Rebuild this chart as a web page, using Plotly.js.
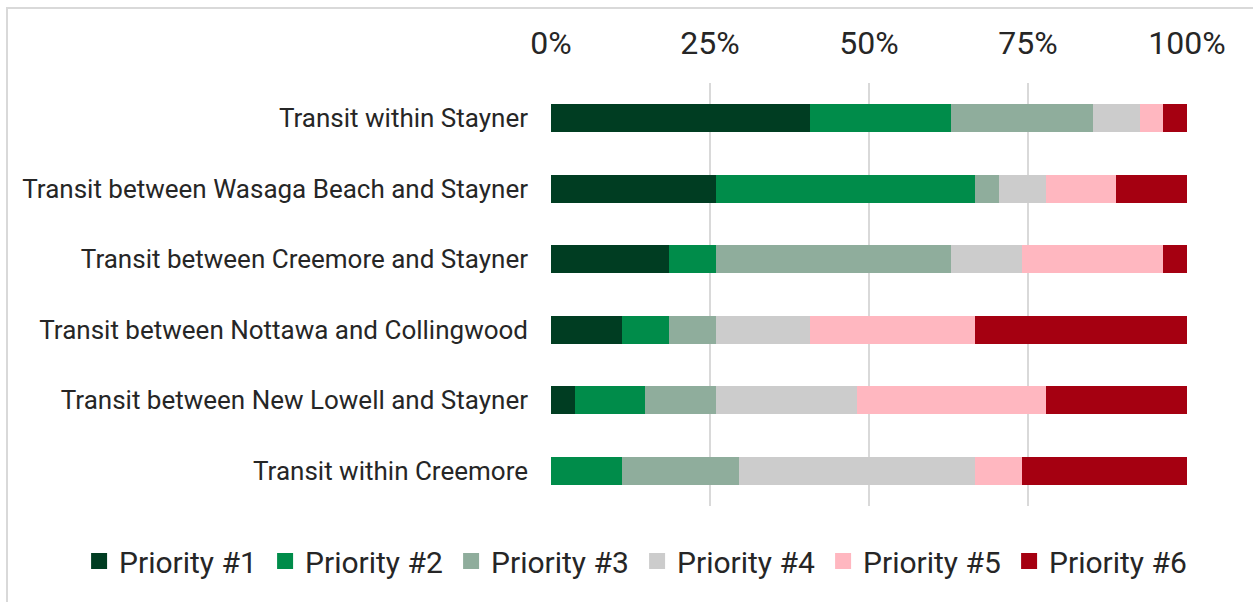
<!DOCTYPE html>
<html>
<head>
<meta charset="utf-8">
<script src="https://cdn.plot.ly/plotly-3.0.1.min.js"></script>
<style>
  html, body { margin: 0; padding: 0; background: #fff; }
  #chart { position: absolute; left: 0; top: 0; width: 1253px; height: 602px; }
  #frame { position: absolute; left: 6px; top: 7px; width: 1300px; height: 700px;
           border-left: 2px solid #d9d9d9; border-top: 2px solid #d9d9d9; pointer-events: none; }
</style>
</head>
<body>
<div id="chart"></div>
<div id="frame"></div>
<script>
const categories = [
  "Transit within Stayner",
  "Transit between Wasaga Beach and Stayner",
  "Transit between Creemore and Stayner",
  "Transit between Nottawa and Collingwood",
  "Transit between New Lowell and Stayner",
  "Transit within Creemore"
];
const seriesNames = ["Priority #1", "Priority #2", "Priority #3", "Priority #4", "Priority #5", "Priority #6"];
const priority1 = [40.7, 25.9, 18.5, 11.1, 3.7, 0];
const priority2 = [22.2, 40.7, 7.4, 7.4, 11.1, 11.1];
const priority3 = [22.2, 3.7, 37.0, 7.4, 11.1, 18.5];
const priority4 = [7.4, 7.4, 11.1, 14.8, 22.2, 37.0];
const priority5 = [3.7, 11.1, 22.2, 25.9, 29.6, 7.4];
const priority6 = [3.7, 11.1, 3.7, 33.3, 22.2, 25.9];
const tickValues = [0, 25, 50, 75, 100];
const tickLabels = ["0%", "25%", "50%", "75%", "100%"];

const seriesValues = [priority1, priority2, priority3, priority4, priority5, priority6];
const colors = ["#003D22", "#008C4A", "#8FAD9C", "#CCCCCC", "#FFB7C0", "#A50011"];

const barTraces = seriesValues.map((vals, i) => ({
  type: "bar",
  orientation: "h",
  name: seriesNames[i],
  y: categories,
  x: vals,
  showlegend: false,
  legendgroup: seriesNames[i],
  marker: { color: colors[i], line: { width: 0 } },
  hoverinfo: "name+x"
}));

// legend-only proxies so the legend swatches are larger squares
const legendTraces = seriesNames.map((name, i) => ({
  type: "scatter",
  mode: "markers",
  name: name,
  legendgroup: name,
  x: [null],
  y: [null],
  marker: { symbol: "square", size: 16, color: colors[i], line: { width: 0 } },
  hoverinfo: "skip"
}));

const font = "Roboto, 'Open Sans', sans-serif";

const layout = {
  width: 1253,
  height: 602,
  barmode: "stack",
  barnorm: "percent",
  bargap: 0.6,
  paper_bgcolor: "#ffffff",
  plot_bgcolor: "#ffffff",
  margin: { l: 551, r: 66, t: 83, b: 96, pad: 0 },
  font: { family: font, color: "#262626" },
  xaxis: {
    side: "top",
    range: [0, 100],
    tickvals: tickValues,
    ticktext: tickLabels,
    showgrid: true,
    gridcolor: "#d9d9d9",
    gridwidth: 2,
    zeroline: false,
    showline: false,
    ticks: "",
    ticklabelstandoff: 22,
    tickfont: { size: 32, family: font, color: "#262626" },
    fixedrange: true
  },
  yaxis: {
    autorange: "reversed",
    showgrid: false,
    zeroline: false,
    showline: false,
    ticks: "",
    ticklabelstandoff: 22,
    tickfont: { size: 26, family: font, color: "#262626" },
    fixedrange: true
  },
  showlegend: true,
  legend: {
    orientation: "h",
    x: -0.742,
    xanchor: "left",
    y: -0.13,
    yanchor: "middle",
    entrywidth: 141,
    entrywidthmode: "pixels",
    font: { size: 30, family: font, color: "#262626" },
    traceorder: "normal",
    itemclick: false,
    itemdoubleclick: false
  }
};

Plotly.newPlot("chart", barTraces.concat(legendTraces), layout, { displayModeBar: false, staticPlot: true });
</script>
</body>
</html>
